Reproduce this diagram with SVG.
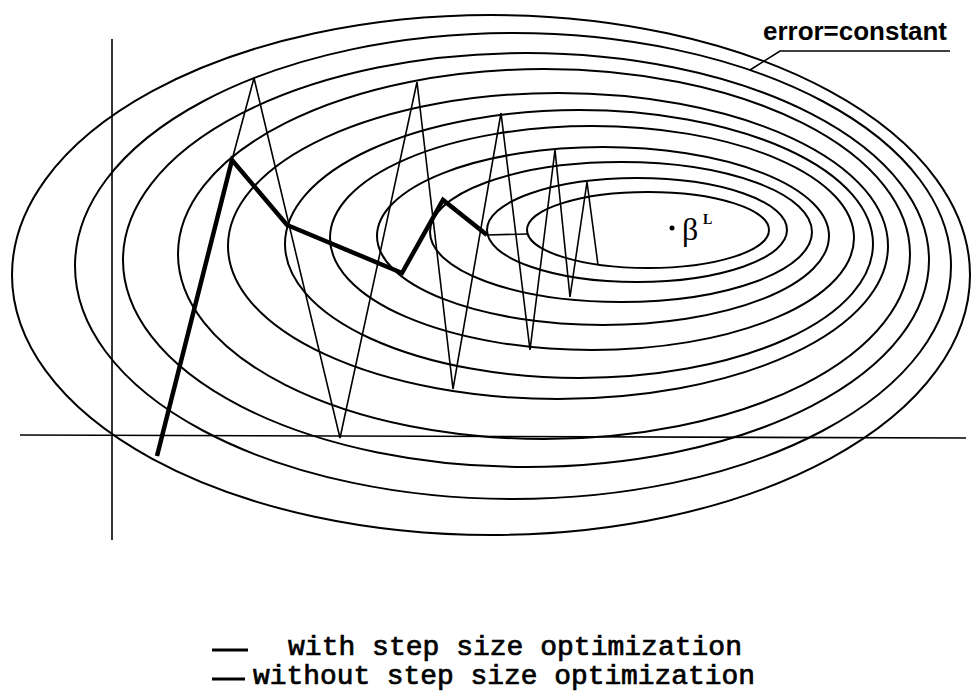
<svg xmlns="http://www.w3.org/2000/svg" width="971" height="696" viewBox="0 0 971 696">
<style>
.c{fill:none;stroke:#000;stroke-width:2}
.ax{fill:none;stroke:#000;stroke-width:1.6}
.thin{fill:none;stroke:#000;stroke-width:1.6;stroke-linejoin:miter}
.thick{fill:none;stroke:#000;stroke-width:4.5;stroke-linejoin:miter}
.lbl{font-family:"Liberation Sans Narrow","Liberation Sans",Arial,sans-serif;font-weight:bold;font-size:25px;fill:#000}
.leg{font-family:"Liberation Mono","Courier New",monospace;font-weight:normal;font-size:27px;fill:#000;stroke:#000;stroke-width:0.7}
.greek{font-family:"Liberation Serif","Times New Roman",serif;fill:#000}
</style>
<rect width="971" height="696" fill="#fff"/>
<g id="contours">
<ellipse class="c" cx="648" cy="230" rx="121" ry="38"/>
<ellipse class="c" cx="637" cy="230" rx="150" ry="52"/>
<ellipse class="c" cx="621" cy="232" rx="191" ry="70"/>
<ellipse class="c" cx="603" cy="236" rx="226" ry="89"/>
<ellipse class="c" cx="592" cy="238" rx="262" ry="112"/>
<ellipse class="c" cx="579" cy="244" rx="294" ry="134"/>
<ellipse class="c" cx="558" cy="246" rx="330" ry="153"/>
<ellipse class="c" cx="544" cy="254" rx="366" ry="185"/>
<ellipse class="c" cx="526" cy="260" rx="403" ry="207"/>
<ellipse class="c" cx="513" cy="266" rx="438" ry="233"/>
<ellipse class="c" cx="491" cy="275" rx="479" ry="260"/>
</g>
<g id="axes">
<line class="ax" x1="112" y1="39" x2="112" y2="540"/>
<line class="ax" x1="20" y1="435" x2="966" y2="438"/>
</g>
<g id="connectors">
<polyline id="path-without" class="thin" points="157,456 232,160 254,78 340,438 417,82 453,389 501,113 530,350 555,150 570,297 587,182 598,265"/>
<polyline id="path-with" class="thick" points="157,456 232,160 287,225 402,273 443,200 487,235"/>
<line class="thin" x1="487" y1="235" x2="527" y2="234" stroke-width="3"/>
<polyline class="thin" points="950,51 780,51 750,70"/>
</g>
<g id="label-error">
<text class="lbl" x="763" y="40" textLength="184" lengthAdjust="spacingAndGlyphs">error=constant</text>
</g>
<g id="minimum">
<circle cx="672" cy="228" r="2.5" fill="#000"/>
<text class="greek" x="682" y="240" font-size="32">β</text>
<text class="greek" x="703" y="224" font-size="14" font-weight="bold">L</text>
</g>
<g id="legend">
<line x1="212" y1="650" x2="248" y2="650" stroke="#000" stroke-width="3"/>
<text class="leg" x="288" y="655" textLength="454" lengthAdjust="spacingAndGlyphs">with step size optimization</text>
<line x1="212" y1="679" x2="245" y2="679" stroke="#000" stroke-width="3"/>
<text class="leg" x="253" y="684" textLength="502" lengthAdjust="spacingAndGlyphs">without step size optimization</text>
</g>
</svg>
